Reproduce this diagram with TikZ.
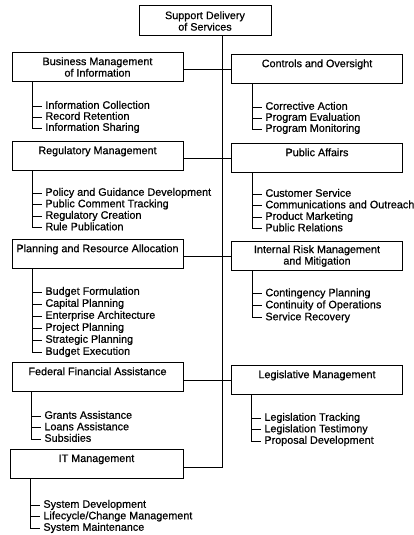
\documentclass[tikz,border=0pt]{standalone}
\usepackage{fontspec}
\setmainfont{Liberation Sans}[FakeBold=0.6]
\usepackage{tikz}

\tikzset{
    grp/.style={draw, line width=1pt, minimum width=171pt, minimum height=29pt, inner sep=0pt, align=center},
    item/.style={anchor=west, inner xsep=3pt, inner ysep=1.5pt, text height=7.5pt, text depth=2pt},
}

\begin{document}
\begin{tikzpicture}[x=1pt,y=-1pt,line width=0.9pt,font=\fontsize{10.8}{11.5}\selectfont]
    \useasboundingbox (0,0) rectangle (414,535);

    \node[grp, minimum width=132pt, minimum height=30pt] (sup) at (205,21) {Support Delivery\\of Services};
    \node[grp] (bmi) at (97.5,67) {Business Management\\of Information};
    \node[grp] (cao) at (317,69) {Controls and Oversight\\~};
    \node[grp] (reg) at (97.5,156) {Regulatory Management\\~};
    \node[grp] (pa) at (317,158) {Public Affairs\\~};
    \node[grp] (par) at (97.5,254) {Planning and Resource Allocation\\~};
    \node[grp] (irm) at (317,256) {Internal Risk Management\\and Mitigation};
    \node[grp] (ffa) at (97.5,377) {Federal Financial Assistance\\~};
    \node[grp] (lm) at (317,380) {Legislative Management\\~};
    \node[grp, minimum width=173pt] (it) at (96.5,464) {IT Management\\~};

    \coordinate (s1) at (222.7,467);
    \draw (sup.south -| s1) -- (s1) -- (s1 -| it.east);
    \foreach \l/\r in {bmi/cao,reg/pa,par/irm,ffa/lm}
    \draw (\l.east |- \r.west) -- (\r.west);

    \coordinate (bmi-r) at (32.5,0);
    \foreach \t [count=\i] in {Information Collection,Record Retention,Information Sharing}
    \node[item] (bmi-\i) at (42,95+11*\i) {\t};
    \coordinate (cao-r) at (252.5,0);
    \foreach \t [count=\i] in {Corrective Action,Program Evaluation,Program Monitoring}
    \node[item] (cao-\i) at (262,96+11*\i) {\t};

    \coordinate (reg-r) at (32.5,0);
    \foreach \t [count=\i] in {Policy and Guidance Development,Public Comment Tracking,Regulatory Creation,Rule Publication}
    \node[item] (reg-\i) at (42,181.5+11.5*\i) {\t};
    \coordinate (pa-r) at (252.5,0);
    \foreach \t [count=\i] in {Customer Service,Communications and Outreach,Product Marketing,Public Relations}
    \node[item] (pa-\i) at (262,182.5+11.5*\i) {\t};

    \coordinate (par-r) at (32.5,0);
    \foreach \t [count=\i] in {Budget Formulation,Capital Planning,Enterprise Architecture,Project Planning,Strategic Planning,Budget Execution}
    \node[item] (par-\i) at (42,280+12*\i) {\t};
    \coordinate (irm-r) at (252.5,0);
    \foreach \t [count=\i] in {Contingency Planning,Continuity of Operations,Service Recovery}
    \node[item] (irm-\i) at (262,281.5+12*\i) {\t};

    \coordinate (ffa-r) at (31.5,0);
    \foreach \t [count=\i] in {Grants Assistance,Loans Assistance,Subsidies}
    \node[item] (ffa-\i) at (41,404.5+11.5*\i) {\t};
    \coordinate (lm-r) at (251.5,0);
    \foreach \t [count=\i] in {Legislation Tracking,Legislation Testimony,Proposal Development}
    \node[item] (lm-\i) at (261,406.5+11.5*\i) {\t};

    \coordinate (it-r) at (30.5,0);
    \foreach \t [count=\i] in {System Development,Lifecycle/Change Management,System Maintenance}
    \node[item] (it-\i) at (40,493.5+11.5*\i) {\t};

    \foreach \g/\n in {bmi/3,cao/3,reg/4,pa/4,par/6,irm/3,ffa/3,lm/3,it/3} {
        \draw (\g.south -| \g-r) |- (\g-\n.west);
        \foreach \i in {1,...,\n}
        \draw (\g-r |- \g-\i.west) -- (\g-\i.west);
    }

\end{tikzpicture}
\end{document}
